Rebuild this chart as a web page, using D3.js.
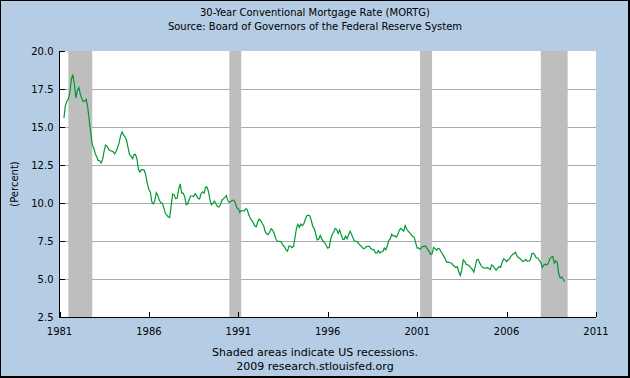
<!DOCTYPE html>
<html>
<head>
<meta charset="utf-8">
<script src="https://cdn.jsdelivr.net/npm/d3@7"></script>
<style>
html,body{margin:0;padding:0;background:#fff;}
svg{display:block;}
text{font-family:"DejaVu Sans",Verdana,sans-serif;fill:#000;}
</style>
</head>
<body>
<svg id="chart" width="630" height="378"></svg>
<script>
// ---- Data ----
const titleLines = ["30-Year Conventional Mortgage Rate (MORTG)", "Source: Board of Governors of the Federal Reserve System"];
const footerLines = ["Shaded areas indicate US recessions.", "2009 research.stlouisfed.org"];
const yLabel = "(Percent)";
const firstObs = [1981, 4]; // year, month of first observation
// monthly 30-year mortgage rate, percent (Apr 1981 .. Apr 2009)
const rates1981 = [15.58,16.40,16.70,16.83,17.29,18.16,18.45,17.83,16.92];
const rates1982 = [17.40,17.60,17.16,16.89,16.68,16.70,16.82,16.27,15.43,14.61,13.83,13.62];
const rates1983 = [13.24,13.04,12.80,12.78,12.63,12.87,13.42,13.81,13.73,13.54,13.44,13.42];
const rates1984 = [13.37,13.23,13.39,13.65,13.94,14.42,14.67,14.47,14.35,14.13,13.64,13.18];
const rates1985 = [13.08,12.92,13.17,13.20,12.91,12.22,12.03,12.19,12.19,12.14,11.78,11.26];
const rates1986 = [10.88,10.71,10.08,9.94,10.14,10.68,10.51,10.20,10.01,9.98,9.70,9.32];
const rates1987 = [9.20,9.08,9.04,9.83,10.60,10.54,10.28,10.33,10.89,11.26,10.65,10.65];
const rates1988 = [10.43,9.89,9.93,10.20,10.46,10.46,10.43,10.60,10.48,10.30,10.27,10.61];
const rates1989 = [10.73,10.65,11.03,11.05,10.77,10.20,9.88,9.99,10.13,9.95,9.77,9.74];
const rates1990 = [9.90,10.20,10.27,10.37,10.48,10.16,10.04,10.10,10.18,10.18,10.01,9.67];
const rates1991 = [9.64,9.37,9.50,9.49,9.47,9.62,9.58,9.24,9.01,8.86,8.71,8.50];
const rates1992 = [8.43,8.76,8.94,8.85,8.67,8.51,8.13,7.98,7.92,8.09,8.31,8.22];
const rates1993 = [7.99,7.68,7.50,7.47,7.47,7.42,7.21,7.11,6.92,6.83,7.16,7.17];
const rates1994 = [7.06,7.15,7.68,8.32,8.60,8.40,8.61,8.51,8.64,8.93,9.17,9.20];
const rates1995 = [9.15,8.83,8.46,8.32,7.96,7.57,7.61,7.86,7.64,7.48,7.38,7.20];
const rates1996 = [7.03,7.08,7.62,7.93,8.07,8.32,8.25,8.00,8.23,7.92,7.62,7.60];
const rates1997 = [7.82,7.65,7.90,8.14,7.94,7.69,7.50,7.48,7.43,7.29,7.21,7.10];
const rates1998 = [6.99,7.04,7.13,7.14,7.14,7.00,6.95,6.92,6.72,6.71,6.87,6.72];
const rates1999 = [6.79,6.81,7.04,6.92,7.15,7.55,7.63,7.94,7.82,7.85,7.74,7.91];
const rates2000 = [8.21,8.33,8.24,8.15,8.52,8.29,8.15,8.03,7.91,7.80,7.75,7.38];
const rates2001 = [7.03,7.05,6.95,7.08,7.15,7.16,7.13,6.95,6.82,6.62,6.66,7.07];
const rates2002 = [7.00,6.89,7.01,6.99,6.81,6.65,6.49,6.29,6.09,6.11,6.07,6.05];
const rates2003 = [5.92,5.84,5.75,5.81,5.48,5.23,5.63,6.26,6.15,5.95,5.93,5.88];
const rates2004 = [5.74,5.64,5.45,5.83,6.27,6.29,6.06,5.87,5.75,5.72,5.73,5.75];
const rates2005 = [5.71,5.63,5.93,5.86,5.72,5.58,5.70,5.82,5.77,6.07,6.33,6.27];
const rates2006 = [6.15,6.25,6.32,6.51,6.60,6.68,6.76,6.52,6.40,6.36,6.24,6.14];
const rates2007 = [6.22,6.29,6.16,6.18,6.26,6.66,6.70,6.57,6.38,6.38,6.21,6.10];
const rates2008 = [5.76,5.92,5.97,5.92,6.04,6.32,6.43,6.48,6.04,6.20,6.09,5.33];
const rates2009 = [5.06,5.13,5.00,4.81];
// recessions: [start year, start month, end year, end month]
const recessionStarts = [[1981,7],[1990,7],[2001,3],[2007,12]];
const recessionEnds   = [[1982,11],[1991,3],[2001,11],[2009,6]];
const yTicks = [2.5,5.0,7.5,10.0,12.5,15.0,17.5,20.0];
const xTickYears = [1981,1986,1991,1996,2001,2006,2011];

// ---- Build series ----
const allRates = [].concat(rates1981,rates1982,rates1983,rates1984,rates1985,rates1986,rates1987,rates1988,rates1989,rates1990,rates1991,rates1992,rates1993,rates1994,rates1995,rates1996,rates1997,rates1998,rates1999,rates2000,rates2001,rates2002,rates2003,rates2004,rates2005,rates2006,rates2007,rates2008,rates2009);
const series = allRates.map((v,i)=>({date:new Date(firstObs[0], firstObs[1]-1+i, 1), value:v}));

// ---- Layout ----
const W=630,H=378;
const plot={left:59.5,right:596,top:51,bottom:317};
const fs="10px";
const svg=d3.select("#chart");

svg.append("rect").attr("x",0).attr("y",0).attr("width",W).attr("height",H).attr("fill","#000");
svg.append("rect").attr("x",1).attr("y",1).attr("width",W-3).attr("height",H-3).attr("fill","#b4cde5");

const x=d3.scaleTime().domain([new Date(1981,0,1),new Date(2011,0,1)]).range([plot.left,plot.right]);
const y=d3.scaleLinear().domain([2.5,20]).range([plot.bottom,plot.top]);

svg.append("rect").attr("x",plot.left).attr("y",plot.top).attr("width",plot.right-plot.left).attr("height",plot.bottom-plot.top).attr("fill","#fff");

// grid lines
svg.append("g").selectAll("line").data(yTicks.filter(t=>t>2.5&&t<20)).join("line")
  .attr("x1",plot.left).attr("x2",plot.right)
  .attr("y1",d=>Math.round(y(d))+0.5).attr("y2",d=>Math.round(y(d))+0.5)
  .attr("stroke","#aaaaaa").attr("stroke-width",1);

// recessions
svg.append("g").selectAll("rect").data(recessionStarts.map((s,i)=>({s:s,e:recessionEnds[i]}))).join("rect")
  .attr("x",d=>x(new Date(d.s[0],d.s[1]-1,1)))
  .attr("width",d=>x(new Date(d.e[0],d.e[1]-1,1))-x(new Date(d.s[0],d.s[1]-1,1)))
  .attr("y",plot.top).attr("height",plot.bottom-plot.top)
  .attr("fill","#bebebe");

// line
const line=d3.line().x(d=>x(d.date)).y(d=>y(d.value));
svg.append("path").datum(series).attr("d",line)
  .attr("fill","none").attr("stroke","#009933").attr("stroke-width",1.2).attr("stroke-linejoin","miter");

// axes
const yAxis=d3.axisRight(y).tickValues(yTicks).tickSize(5).tickFormat("");
const gy=svg.append("g").attr("transform",`translate(${plot.left},0)`).call(yAxis);
gy.select(".domain").remove();
gy.selectAll("line").attr("stroke","#000").attr("shape-rendering","crispEdges");
svg.append("g").selectAll("text").data(yTicks).join("text")
  .attr("x",plot.left-6).attr("y",d=>y(d)).attr("dy","0.38em")
  .attr("text-anchor","end").attr("font-size",fs).text(d=>d3.format(".1f")(d));

const xAxis=d3.axisTop(x).tickValues(xTickYears.map(yv=>new Date(yv,0,1))).tickSize(5).tickFormat("");
const gx=svg.append("g").attr("transform",`translate(0,${plot.bottom})`).call(xAxis);
gx.select(".domain").remove();
gx.selectAll("line").attr("stroke","#000").attr("shape-rendering","crispEdges");
svg.append("g").selectAll("text").data(xTickYears).join("text")
  .attr("x",d=>x(new Date(d,0,1))).attr("y",plot.bottom+18)
  .attr("text-anchor","middle").attr("font-size",fs).text(d=>d);

svg.append("line").attr("x1",plot.left).attr("x2",plot.left).attr("y1",plot.top).attr("y2",plot.bottom+0.5)
  .attr("stroke","#000").attr("shape-rendering","crispEdges");
svg.append("line").attr("x1",plot.left).attr("x2",plot.right).attr("y1",plot.bottom+0.5).attr("y2",plot.bottom+0.5)
  .attr("stroke","#000").attr("shape-rendering","crispEdges");

// titles
svg.append("g").selectAll("text").data(titleLines).join("text")
  .attr("x",W/2).attr("y",(d,i)=>15.5+i*14).attr("text-anchor","middle").attr("font-size",fs).text(d=>d);
svg.append("g").selectAll("text").data(footerLines).join("text")
  .attr("x",W/2).attr("y",(d,i)=>355.5+i*14).attr("text-anchor","middle").attr("font-size","11px").text(d=>d);
svg.append("text").attr("transform","translate(17.5,184) rotate(-90)").attr("text-anchor","middle")
  .attr("font-size",fs).text(yLabel);
</script>
</body>
</html>
